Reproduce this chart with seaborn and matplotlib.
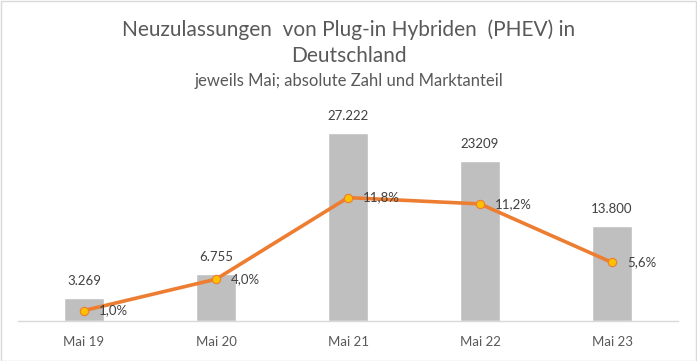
import numpy as np
import pandas as pd
import matplotlib
matplotlib.use("Agg")
import matplotlib.pyplot as plt
import seaborn as sns
from matplotlib.patches import Rectangle

categories = ["Mai 19", "Mai 20", "Mai 21", "Mai 22", "Mai 23"]
registrations = [3269, 6755, 27222, 23209, 13800]
bar_labels = ["3.269", "6.755", "27.222", "23209", "13.800"]
share = [1.0, 4.0, 11.8, 11.2, 5.6]
share_labels = ["1,0%", "4,0%", "11,8%", "11,2%", "5,6%"]

sns.set_theme(style="white")
plt.rcParams['font.family'] = ['Lato', 'DejaVu Sans']

df = pd.DataFrame({"cat": categories, "reg": registrations,
                   "pos": np.arange(len(categories)), "share": share})

fig = plt.figure(figsize=(6.97, 3.61), dpi=100)
ax = fig.add_axes([18/697, 40/361, 660/697, 207/361])

sns.barplot(data=df, x="cat", y="reg", color="#BFBFBF", width=0.31,
            saturation=1, ax=ax)
ax.set_ylim(0, 30000)
ax.set_xlim(-0.5, len(categories) - 0.5)
ax.set_xlabel("")
ax.set_ylabel("")
ax.set_yticks([])
for s in ["top", "right", "left"]:
    ax.spines[s].set_visible(False)
ax.spines["bottom"].set_color("#D9D9D9")
ax.spines["bottom"].set_linewidth(1)
ax.tick_params(axis="x", colors="#595959", labelsize=9.5, length=0, pad=11)
for lbl in ax.get_xticklabels():
    lbl.set_color("#595959")

for i, (v, t) in enumerate(zip(registrations, bar_labels)):
    ax.annotate(t, (i, v), xytext=(0, 8), textcoords="offset points",
                ha="center", va="bottom", fontsize=9.5, color="#404040")

ax2 = ax.twinx()
sns.lineplot(data=df, x="pos", y="share", ax=ax2, color="#ED7D31",
             linewidth=2.6, marker="o", markersize=6,
             markerfacecolor="#FFC000", markeredgecolor="#ED7D31",
             markeredgewidth=0.8)
ax2.set_ylim(0, 19.8)
ax2.set_xlim(-0.5, len(categories) - 0.5)
ax2.set_yticks([])
ax2.set_ylabel("")
ax2.set_xlabel("")
for s in ["top", "right", "left", "bottom"]:
    ax2.spines[s].set_visible(False)
for i, (v, t) in enumerate(zip(share, share_labels)):
    ax2.annotate(t, (i, v), xytext=(11, 0), textcoords="offset points",
                 ha="left", va="center", fontsize=9.5, color="#404040")

fig.text(0.5, 1 - 30/361, "Neuzulassungen  von Plug-in Hybriden  (PHEV) in",
         ha="center", va="center", fontsize=15, color="#595959")
fig.text(0.5, 1 - 56/361, "Deutschland", ha="center", va="center",
         fontsize=15, color="#595959")
fig.text(0.5, 1 - 81/361, "jeweils Mai; absolute Zahl und Marktanteil",
         ha="center", va="center", fontsize=12, color="#595959")

fig.patches.append(Rectangle((0.5/697, 0.5/361), 1 - 1.5/697, 1 - 1.5/361,
                             transform=fig.transFigure, fill=False,
                             edgecolor="#D9D9D9", linewidth=1))

fig.savefig("out.png", dpi=100)
